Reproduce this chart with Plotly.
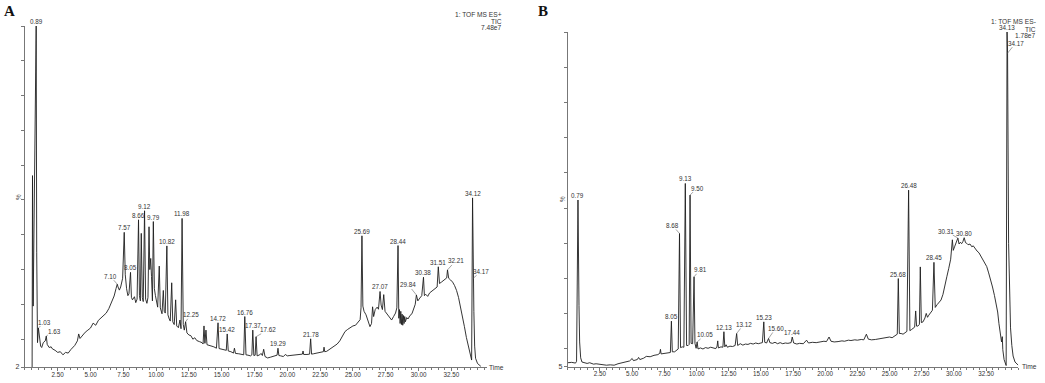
import plotly.graph_objects as go

# ---------------- data: panel A (TOF MS ES+, TIC 7.48e7) ----------------
a_time = [0.55, 0.58, 0.63, 0.86, 0.90, 0.93, 0.96, 1.03, 1.10, 1.20, 1.28, 1.40, 1.55, 1.63, 1.70, 1.85,
          2.00, 2.10, 2.30, 2.50, 2.70, 2.90, 3.10, 3.30, 3.50, 3.80, 4.00, 4.10, 4.20, 4.40, 4.60, 4.80,
          5.00, 5.20, 5.40, 5.60, 5.80, 6.00, 6.20, 6.40, 6.60, 6.80, 6.95, 7.04, 7.10, 7.20, 7.30, 7.45,
          7.57, 7.65, 7.75, 7.85, 7.93, 8.05, 8.12, 8.20, 8.35, 8.45, 8.55, 8.66, 8.73, 8.80, 8.87, 8.95,
          9.02, 9.12, 9.20, 9.30, 9.38, 9.46, 9.52, 9.59, 9.65, 9.72, 9.79, 9.87, 9.95, 10.05, 10.12, 10.24,
          10.32, 10.45, 10.55, 10.62, 10.70, 10.82, 10.90, 11.00, 11.08, 11.19, 11.27, 11.38, 11.49, 11.57,
          11.70, 11.82, 11.90, 11.98, 12.07, 12.15, 12.25, 12.35, 12.50, 12.65, 12.80, 12.95, 13.10, 13.30,
          13.50, 13.58, 13.65, 13.72, 13.80, 13.88, 14.00, 14.20, 14.40, 14.60, 14.72, 14.80, 15.00, 15.20,
          15.35, 15.42, 15.50, 15.70, 15.90, 15.97, 16.05, 16.30, 16.50, 16.68, 16.76, 16.85, 17.00, 17.20,
          17.30, 17.37, 17.45, 17.55, 17.62, 17.70, 17.90, 18.00, 18.10, 18.20, 18.30, 18.50, 18.70, 18.90,
          19.10, 19.22, 19.29, 19.36, 19.50, 19.70, 19.85, 20.00, 20.20, 20.50, 20.80, 21.00, 21.15, 21.20,
          21.25, 21.50, 21.70, 21.78, 21.85, 22.00, 22.30, 22.60, 22.75, 22.80, 22.85, 23.00, 23.20, 23.40,
          23.60, 23.80, 24.00, 24.20, 24.40, 24.60, 24.80, 25.00, 25.20, 25.40, 25.55, 25.62, 25.69, 25.76,
          25.85, 26.00, 26.15, 26.30, 26.42, 26.50, 26.58, 26.70, 26.85, 26.95, 27.07, 27.15, 27.25, 27.35,
          27.45, 27.60, 27.75, 27.95, 28.10, 28.25, 28.35, 28.44, 28.50, 28.55, 28.60, 28.65, 28.70, 28.75,
          28.80, 28.85, 28.90, 28.95, 29.00, 29.10, 29.20, 29.35, 29.50, 29.65, 29.75, 29.84, 29.95, 30.10,
          30.25, 30.38, 30.45, 30.55, 30.70, 30.85, 31.00, 31.15, 31.30, 31.42, 31.51, 31.60, 31.75, 31.90,
          32.05, 32.15, 32.21, 32.30, 32.45, 32.60, 32.75, 32.90, 33.05, 33.20, 33.35, 33.50, 33.65, 33.80,
          33.95, 34.05, 34.12, 34.17, 34.22, 34.28, 34.35, 34.50, 34.75]
a_pct = [2.0, 57.0, 19.5, 100.0, 35.0, 19.0, 9.0, 13.2, 10.0, 8.0, 7.6, 9.0, 9.5, 10.9, 8.5, 7.6,
         7.8, 7.2, 6.8, 6.2, 6.4, 5.5, 6.2, 6.0, 7.0, 8.2, 9.5, 11.5, 10.2, 11.2, 12.0, 12.6,
         13.2, 14.6, 14.0, 15.4, 16.2, 16.9, 17.5, 18.8, 20.4, 22.4, 24.6, 25.8, 25.0, 24.1, 25.0, 27.5,
         40.7, 28.5, 24.5, 22.5, 23.0, 29.2, 22.0, 21.3, 22.2, 20.5, 21.5, 44.3, 22.5, 21.0, 40.4, 22.0,
         20.8, 46.9, 21.5, 20.3, 22.0, 42.3, 30.0, 33.2, 28.0, 21.0, 43.8, 24.5, 22.5, 20.5, 19.2, 31.0,
         19.0, 17.3, 24.0, 18.0, 17.5, 36.8, 17.0, 15.8, 15.2, 26.2, 15.0, 14.2, 21.3, 13.8,
         13.3, 15.5, 13.0, 44.7, 14.2, 12.6, 15.0, 11.8, 11.2, 11.0, 10.0, 10.4, 9.6, 9.3,
         9.0, 8.6, 13.8, 8.8, 12.6, 8.4, 8.3, 8.0, 7.8, 7.4, 14.7, 7.3, 7.1, 6.9,
         6.8, 11.5, 6.6, 6.4, 6.0, 7.4, 5.9, 5.8, 5.7, 5.5, 16.5, 5.5, 5.4, 5.2,
         5.5, 12.6, 5.3, 5.4, 10.7, 5.2, 5.5, 5.9, 5.3, 7.1, 5.0, 4.6, 4.8, 5.0,
         5.3, 5.4, 7.4, 5.3, 5.2, 5.0, 5.6, 5.2, 5.3, 5.4, 5.5, 5.6, 5.7, 6.6,
         5.6, 5.6, 5.7, 10.1, 5.7, 5.8, 6.0, 6.2, 6.4, 7.7, 6.4, 6.5, 7.0, 7.6,
         8.0, 8.6, 9.5, 10.8, 12.2, 12.8, 13.3, 13.8, 14.0, 14.8, 15.6, 19.0, 39.7, 19.5,
         18.0, 17.0, 15.5, 13.6, 14.5, 19.3, 16.5, 18.5, 19.2, 18.6, 23.7, 19.8, 18.5, 22.8,
         18.0, 17.2, 16.6, 15.5, 16.5, 17.5, 19.0, 36.9, 16.0, 18.5, 14.5, 18.0, 14.2, 17.2,
         14.0, 16.8, 14.5, 16.5, 15.0, 16.2, 15.8, 16.8, 17.3, 18.8, 20.0, 22.7, 21.0, 21.8,
         22.5, 27.8, 22.5, 22.9, 22.3, 23.3, 23.7, 24.3, 24.6, 25.0, 30.8, 26.0, 26.4, 26.8,
         27.2, 27.6, 29.9, 27.5, 27.0, 26.4, 25.4, 24.0, 22.0, 19.5, 16.8, 13.6, 10.5, 8.0,
         5.5, 4.0, 50.6, 27.5, 18.0, 8.0, 4.5, 3.0, 2.2]

a_label_text = ["0.89", "1.03", "1.63", "7.10", "7.57", "8.05", "8.66", "9.12", "9.79", "10.82", "11.98",
                "12.25", "14.72", "15.42", "16.76", "17.37", "17.62", "19.29", "21.78", "25.69", "27.07",
                "28.44", "29.84", "30.38", "31.51", "32.21", "34.12", "34.17"]
a_label_time = [0.86, 1.03, 1.63, 7.04, 7.57, 8.05, 8.66, 9.12, 9.79, 10.82, 11.98,
                12.25, 14.72, 15.42, 16.76, 17.37, 17.62, 19.29, 21.78, 25.69, 27.07,
                28.44, 29.84, 30.38, 31.51, 32.21, 34.12, 34.17]
a_label_pct = [100.0, 13.2, 10.9, 25.8, 40.7, 29.2, 44.3, 46.9, 43.8, 36.8, 44.7,
               15.0, 14.7, 11.5, 16.5, 12.6, 10.7, 7.4, 10.1, 39.7, 23.7,
               36.9, 22.7, 27.8, 30.8, 29.9, 50.6, 27.5]

# ---------------- data: panel B (TOF MS ES-, TIC 1.78e7) ----------------
b_time = [0.00, 0.30, 0.60, 0.68, 0.79, 0.84, 0.87, 0.92, 1.00, 1.10, 1.30, 1.50, 1.70, 2.00, 2.20, 2.50,
          2.80, 3.00, 3.30, 3.60, 3.90, 4.20, 4.50, 4.80, 5.00, 5.10, 5.40, 5.50, 5.60, 5.90, 6.10, 6.40,
          6.70, 7.00, 7.15, 7.20, 7.25, 7.50, 7.80, 7.97, 8.05, 8.12, 8.30, 8.45, 8.58, 8.68, 8.76, 8.90,
          9.02, 9.13, 9.23, 9.35, 9.43, 9.50, 9.58, 9.70, 9.81, 9.88, 9.97, 10.05, 10.12, 10.30, 10.50,
          10.70, 10.90, 11.10, 11.30, 11.50, 11.60, 11.65, 11.70, 11.90, 12.05, 12.13, 12.20, 12.30, 12.40,
          12.60, 12.80, 13.00, 13.12, 13.20, 13.40, 13.60, 13.80, 14.00, 14.20, 14.40, 14.60, 14.80, 15.00,
          15.12, 15.23, 15.30, 15.45, 15.60, 15.70, 15.90, 16.10, 16.30, 16.50, 16.70, 16.90, 17.10, 17.35,
          17.44, 17.55, 17.80, 18.00, 18.30, 18.55, 18.70, 19.00, 19.30, 19.60, 19.90, 20.10, 20.30, 20.45,
          20.70, 21.00, 21.30, 21.50, 21.80, 22.00, 22.30, 22.50, 22.80, 23.00, 23.20, 23.35, 23.60, 23.90,
          24.20, 24.50, 24.80, 25.00, 25.20, 25.45, 25.60, 25.68, 25.76, 25.90, 26.05, 26.20, 26.35, 26.48,
          26.58, 26.70, 26.85, 26.95, 27.03, 27.10, 27.20, 27.32, 27.39, 27.47, 27.60, 27.75, 27.85, 27.95,
          28.05, 28.20, 28.33, 28.45, 28.55, 28.70, 28.85, 29.00, 29.15, 29.30, 29.45, 29.60, 29.75, 29.88,
          29.95, 30.05, 30.15, 30.31, 30.40, 30.50, 30.60, 30.70, 30.80, 30.90, 31.00, 31.10, 31.25, 31.40,
          31.50, 31.65, 31.80, 31.95, 32.10, 32.25, 32.40, 32.55, 32.70, 32.85, 33.00, 33.15, 33.30, 33.40,
          33.50, 33.60, 33.70, 33.76, 33.80, 33.90, 34.00, 34.06, 34.13, 34.17, 34.25, 34.30, 34.40, 34.50,
          34.60, 34.75, 34.90, 35.00]
b_pct = [6.1, 6.2, 6.0, 6.5, 52.3, 24.0, 22.4, 12.0, 7.5, 6.3, 6.0, 5.9, 6.1, 5.7, 5.8, 5.6,
         5.5, 5.4, 5.5, 5.4, 5.8, 6.0, 6.3, 6.6, 7.3, 6.7, 7.0, 7.6, 7.0, 7.4, 7.9, 7.8,
         8.2, 8.4, 8.8, 9.9, 8.6, 8.7, 8.9, 9.0, 17.9, 9.2, 9.2, 9.6, 10.0, 42.8, 10.4, 10.6,
         10.5, 57.0, 11.0, 11.0, 11.3, 53.7, 11.6, 11.5, 30.5, 11.6, 10.2, 12.0, 10.0, 10.3, 10.0,
         10.4, 10.2, 10.5, 10.4, 10.1, 10.8, 12.3, 10.3, 10.6, 10.5, 14.9, 10.6, 11.2, 10.5,
         10.8, 10.7, 11.0, 14.4, 11.0, 11.5, 11.1, 11.4, 11.3, 11.6, 11.4, 11.7, 11.5, 11.7,
         11.8, 17.7, 11.9, 11.7, 13.0, 11.8, 11.6, 11.9, 11.5, 11.8, 11.5, 11.7, 11.6, 11.8,
         13.4, 11.7, 11.4, 11.6, 11.5, 12.5, 11.7, 11.9, 11.8, 12.0, 12.2, 12.1, 13.4, 12.2,
         12.0, 12.1, 12.3, 12.2, 12.5, 12.4, 12.6, 12.5, 12.7, 12.6, 14.2, 12.8, 12.6, 12.7,
         12.9, 13.0, 13.2, 13.4, 13.2, 13.9, 14.2, 30.0, 14.4, 14.4, 14.2, 14.6, 15.0, 55.1,
         15.2, 15.5, 15.8, 16.2, 20.8, 16.5, 16.5, 17.0, 33.3, 17.5, 17.7, 18.8, 20.1, 19.0,
         19.6, 20.3, 21.0, 34.6, 21.8, 22.6, 23.2, 23.9, 25.5, 27.6, 30.5, 32.9, 35.5, 41.0,
         38.0, 39.0, 40.0, 41.5, 39.8, 40.3, 39.9, 40.5, 41.6, 40.2, 40.0, 39.6, 39.8, 39.0,
         39.3, 38.5, 37.8, 37.3, 36.4, 35.5, 34.5, 33.4, 31.6, 29.8, 27.6, 25.2, 22.9, 20.5,
         17.2, 14.5, 12.0, 13.5, 9.8, 7.0, 5.4, 5.3, 100.0, 94.0, 40.0, 27.6, 16.0, 11.0,
         8.0, 6.3, 5.6, 5.4]

b_label_text = ["0.79", "8.05", "8.68", "9.13", "9.50", "9.81", "10.05", "12.13", "13.12", "15.23",
                "15.60", "17.44", "25.68", "26.48", "28.45", "30.31", "30.80", "34.13", "34.17"]
b_label_time = [0.79, 8.05, 8.68, 9.13, 9.50, 9.81, 10.05, 12.13, 13.12, 15.23,
                15.60, 17.44, 25.68, 26.48, 28.45, 30.31, 30.80, 34.13, 34.17]
b_label_pct = [52.3, 17.9, 42.8, 57.0, 53.7, 30.5, 12.0, 14.9, 14.4, 17.7,
               13.0, 13.4, 30.0, 55.1, 34.6, 41.5, 41.6, 100.0, 94.0]

x_tick_vals = [2.5, 5.0, 7.5, 10.0, 12.5, 15.0, 17.5, 20.0, 22.5, 25.0, 27.5, 30.0, 32.5]
x_tick_text = ["2.50", "5.00", "7.50", "10.00", "12.50", "15.00", "17.50", "20.00", "22.50",
               "25.00", "27.50", "30.00", "32.50"]

# ---------------- style / layout ----------------
W, H = 1045, 383
FONT = "Liberation Sans, Arial, sans-serif"
TXT = "#333333"
AX = "#777777"
FS = 6.3

# label offsets in pixels (dx, dy) for labels drawn with a leader line; others sit above the apex
a_offsets = {"1.03": (6, -6), "1.63": (8, -5), "7.10": (-7, -8), "12.25": (5, -7),
             "17.62": (12, -7), "29.84": (-8, -10), "32.21": (8, -9), "34.17": (8, -7)}
b_offsets = {"8.68": (-7, -8), "9.50": (7, -7), "9.81": (6, -7), "10.05": (8, -7),
             "13.12": (7, -9), "15.60": (7, -10), "30.31": (-12, -7), "34.17": (8, -10)}

def px(x):
    return x / W

def py(y):
    return 1 - y / H

fig = go.Figure()
fig.add_trace(go.Scatter(x=a_time, y=a_pct, mode="lines", line=dict(color="#1e1e1e", width=0.9),
                         xaxis="x", yaxis="y", hoverinfo="skip"))
fig.add_trace(go.Scatter(x=b_time, y=b_pct, mode="lines", line=dict(color="#1e1e1e", width=0.9),
                         xaxis="x2", yaxis="y2", hoverinfo="skip"))

def xaxis_cfg(domain, rng, anchor):
    return dict(domain=domain, range=rng, anchor=anchor, showline=True, linecolor=AX, linewidth=1,
                ticks="outside", ticklen=3, tickwidth=1, tickcolor=AX, tickmode="array",
                tickvals=x_tick_vals, ticktext=x_tick_text, tickfont=dict(family=FONT, size=FS, color=TXT),
                showgrid=False, zeroline=False, automargin=False, ticklabelstandoff=-2,
                minor=dict(tick0=0, dtick=0.5, ticks="outside", ticklen=2, tickcolor=AX, showgrid=False))

def yaxis_cfg(domain, rng, anchor, bottom):
    vals = [bottom] + list(range(10, 101, 10))
    text = [str(bottom)] + [""] * 10
    return dict(domain=domain, range=rng, anchor=anchor, showline=True, linecolor=AX, linewidth=1,
                ticks="outside", ticklen=3, tickwidth=1, tickcolor=AX, tickmode="array",
                tickvals=vals, ticktext=text, tickfont=dict(family=FONT, size=FS + 0.7, color=TXT),
                showgrid=False, zeroline=False, automargin=False)

fig.update_layout(
    width=W, height=H, margin=dict(l=0, r=0, t=0, b=0, autoexpand=False),
    paper_bgcolor="white", plot_bgcolor="white", showlegend=False,
    xaxis=xaxis_cfg([px(24.9), px(24.9 + 35.25 * 13.12)], [0, 35.25], "y"),
    yaxis=yaxis_cfg([py(367), py(26)], [2, 100], "x", 2),
    xaxis2=xaxis_cfg([px(567.8), px(567.8 + 35.0 * 12.87)], [0, 35.0], "y2"),
    yaxis2=yaxis_cfg([py(366.6), py(32)], [5, 100], "x2", 5),
)

ann = []

def add_labels(texts, times, pcts, offsets, xr, yr):
    for t, x, y in zip(texts, times, pcts):
        f = dict(family=FONT, size=FS, color=TXT)
        if t in offsets:
            dx, dy = offsets[t]
            ann.append(dict(x=x, y=y, xref=xr, yref=yr, text=t, showarrow=True, arrowhead=0,
                            arrowwidth=0.6, arrowcolor="#666666", ax=dx, ay=dy, font=f,
                            borderpad=0, standoff=0))
        else:
            ann.append(dict(x=x, y=y, xref=xr, yref=yr, text=t, showarrow=False, yanchor="bottom",
                            xanchor="center", font=f, borderpad=0, yshift=0))

add_labels(a_label_text, a_label_time, a_label_pct, a_offsets, "x", "y")
add_labels(b_label_text, b_label_time, b_label_pct, b_offsets, "x2", "y2")

def ptext(x, y, t, xanchor="center", size=FS, **kw):
    ann.append(dict(x=px(x), y=py(y), xref="paper", yref="paper", text=t, showarrow=False,
                    xanchor=xanchor, yanchor="middle", font=dict(family=FONT, size=size, color=TXT), **kw))

# headers
ptext(504, 15, "1: TOF MS ES+", "right", 6.6)
ptext(504, 21, "TIC", "right", 6.6)
ptext(504, 27, "7.48e7", "right", 6.6)
ptext(1038, 21.5, "1: TOF MS ES-", "right", 6.6)
ptext(1038, 29.5, "TIC", "right", 6.6)
ptext(1038, 35.5, "1.78e7", "right", 6.6)
# axis captions
ptext(496, 367.7, "Time", size=6.6)
ptext(1029, 366.7, "Time", size=6.6)
ptext(18, 197, "%", textangle=-90)
ptext(562, 199, "%", textangle=-90)
# panel letters
ann.append(dict(x=px(2), y=py(1), xref="paper", yref="paper", text="<b>A</b>", showarrow=False,
                xanchor="left", yanchor="top", font=dict(family="Liberation Serif, Times New Roman, serif",
                                                        size=15, color="#111111")))
ann.append(dict(x=px(536), y=py(1), xref="paper", yref="paper", text="<b>B</b>", showarrow=False,
                xanchor="left", yanchor="top", font=dict(family="Liberation Serif, Times New Roman, serif",
                                                        size=15, color="#111111")))

fig.update_layout(annotations=ann)
fig.write_html("out.html", config={"displayModeBar": False},
               post_script="document.body.style.margin='0';")
